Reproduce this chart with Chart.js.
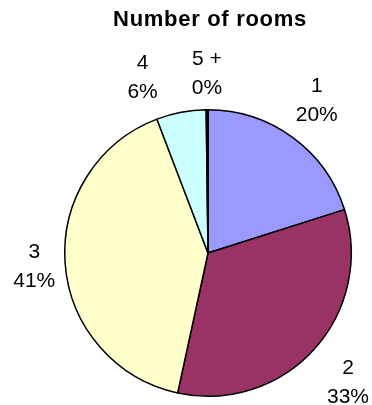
<!DOCTYPE html>
<html>
<head>
<meta charset="utf-8">
<script src="https://cdn.jsdelivr.net/npm/chart.js@4"></script>
<style>
  html, body { margin: 0; padding: 0; background: #fff; }
  #wrap { width: 372px; height: 405px; }
</style>
</head>
<body>
<div id="wrap"><canvas id="roomsChart" width="372" height="405"></canvas></div>
<script>
// pie data (shares in %)
const categories = ['1', '2', '3', '4', '5 +'];
const shares = [20.1, 33.3, 40.8, 5.6, 0.2];
const sliceColors = ['#9999FF', '#993366', '#FFFFCC', '#CCFFFF', '#660066'];
const chartTitle = 'Number of rooms';

// extra radial push per label, px (Excel "best fit" is not quite uniform)
const labelPush = [2, 7, -8, -8, -7];

const FONT = "'Liberation Sans', Arial, sans-serif";

// title + "category / percent" labels outside each slice
const outsideLabels = {
    id: 'outsideLabels',
    afterDatasetsDraw(chart) {
        const ctx = chart.ctx;
        const area = chart.chartArea;
        const arcs = chart.getDatasetMeta(0).data;
        const total = shares.reduce((a, b) => a + b, 0);
        const gap = 18;
        const lineGap = 29;
        ctx.save();
        ctx.fillStyle = '#000';
        ctx.textAlign = 'center';
        ctx.textBaseline = 'middle';

        // title, a bit spaced out like the original
        ctx.font = 'bold 22px ' + FONT;
        ctx.letterSpacing = '0.7px';
        ctx.fillText(chartTitle, (area.left + area.right) / 2 + 2, 20);
        ctx.letterSpacing = '0px';

        ctx.font = '21px ' + FONT;
        const boxes = arcs.map((arc, i) => {
            const mid = (arc.startAngle + arc.endAngle) / 2;
            const ux = Math.cos(mid), uy = Math.sin(mid);
            const pct = Math.round(shares[i] / total * 100) + '%';
            const w = Math.max(ctx.measureText(categories[i]).width, ctx.measureText(pct).width);
            const h = lineGap + 21;
            const r = arc.outerRadius + gap + labelPush[i];
            return {
                x: arc.x + r * ux + ux * w / 2,
                y: arc.y + r * uy + uy * h / 2,
                w: w, h: h, pct: pct
            };
        });

        // push crowded labels apart (later slice keeps its place)
        for (let i = boxes.length - 2; i >= 0; i--) {
            const a = boxes[i], b = boxes[i + 1];
            const overlapY = Math.abs(a.y - b.y) < (a.h + b.h) / 2;
            const minDx = (a.w + b.w) / 2 + 34;
            if (overlapY && a.x < b.x && b.x - a.x < minDx) {
                a.x = b.x - minDx;
            }
        }

        boxes.forEach((b, i) => {
            ctx.fillText(categories[i], b.x, b.y - lineGap / 2);
            ctx.fillText(b.pct, b.x, b.y + lineGap / 2);
        });
        ctx.restore();
    }
};

const ctx = document.getElementById('roomsChart').getContext('2d');
const roomsChart = new Chart(ctx, {
    type: 'pie',
    data: {
        labels: categories,
        datasets: [{
            data: shares,
            backgroundColor: sliceColors,
            borderColor: '#000',
            borderWidth: 1.5,
            hoverOffset: 0
        }]
    },
    options: {
        responsive: false,
        animation: false,
        events: [],
        layout: {
            padding: { left: 64, right: 20, top: 109, bottom: 8 }
        },
        plugins: {
            legend: { display: false },
            tooltip: { enabled: false },
            title: { display: false }
        }
    },
    plugins: [outsideLabels]
});
</script>
</body>
</html>
